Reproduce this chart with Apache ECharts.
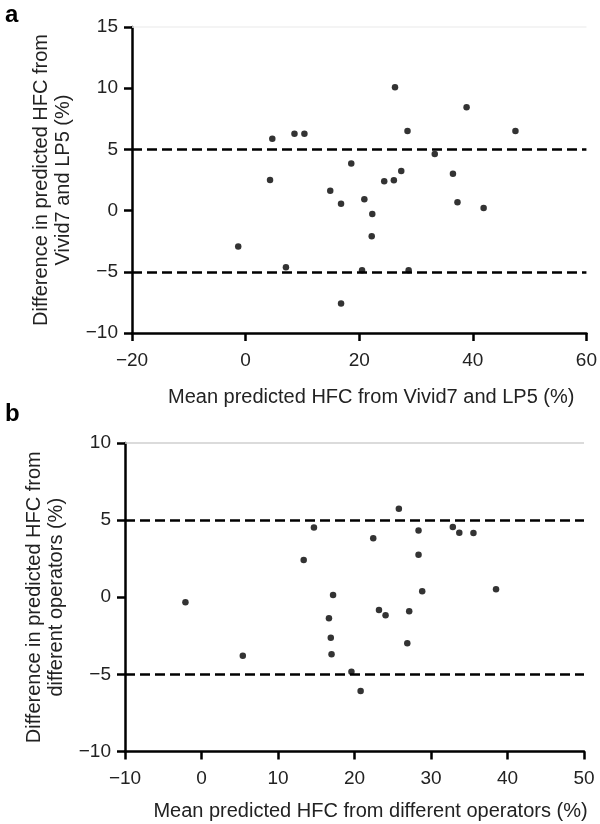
<!DOCTYPE html>
<html><head><meta charset="utf-8">
<script src="https://cdn.jsdelivr.net/npm/echarts@6/dist/echarts.min.js"></script>
<style>html,body{margin:0;padding:0;background:#fff}#c{width:600px;height:824px}</style>
</head><body><div id="c"></div>
<script>
// Panel a: mean (x) and difference (y), Vivid7 vs LP5
const meanA = [-1.3, 4.7, 4.3, 8.6, 10.35, 7.1, 14.9, 16.8, 18.6, 16.8, 20.9, 22.3, 22.2, 20.5, 24.4, 26.1, 27.4, 26.3, 28.5, 28.7, 33.3, 36.5, 37.3, 38.9, 41.9, 47.5];
const diffA = [-2.94, 5.88, 2.5, 6.27, 6.27, -4.63, 1.63, 0.55, 3.84, -7.6, 0.92, -0.27, -2.1, -4.88, 2.4, 2.48, 3.24, 10.07, 6.5, -4.88, 4.63, 3.02, 0.68, 8.44, 0.22, 6.5];
// Panel b: mean (x) and difference (y), different operators
const meanB = [-2.1, 5.4, 13.36, 14.7, 17.2, 16.66, 16.9, 17.0, 19.6, 20.8, 22.45, 23.2, 24.06, 25.8, 28.37, 28.37, 28.85, 27.15, 26.9, 32.85, 33.7, 35.55, 38.5];
const diffB = [-0.32, -3.79, 2.42, 4.52, 0.15, -1.36, -2.62, -3.7, -4.83, -6.08, 3.83, -0.82, -1.17, 5.73, 4.32, 2.75, 0.39, -0.91, -2.99, 4.55, 4.18, 4.16, 0.52];
const limits = [5, -5];
const panelLabels = ['a', 'b'];
const xTitles = ['Mean predicted HFC from Vivid7 and LP5 (%)', 'Mean predicted HFC from different operators (%)'];
const yTitles = ['Difference in predicted HFC from\nVivid7 and LP5 (%)', 'Difference in predicted HFC from\ndifferent operators (%)'];
const xRanges = [[-20, 60, 20], [-10, 50, 10]];
const yRanges = [[-10, 15, 5], [-10, 10, 5]];

const FONT = 'Liberation Sans, Arial, Helvetica, sans-serif';
const fmt = v => v < 0 ? '\u2212' + Math.abs(v) : String(v);
const chart = echarts.init(document.getElementById('c'));

const grids = [
  {left: 132, right: 11, top: 27, height: 306},
  {left: 125, right: 16, top: 443, height: 308.5}
];
const xGaps = [54, 50];
const xShift = [24, 32];
const yGaps = [55, 52];
function axisCommon(margin) {
  return {
    axisLine: {show: true, onZero: false, lineStyle: {color: '#000', width: 2.5}},
    axisTick: {show: true, length: 8, lineStyle: {color: '#000', width: 2.5}},
    splitLine: {show: false},
    axisLabel: {color: '#222', fontSize: 19, fontFamily: FONT, formatter: fmt, margin: margin}
  };
}
const xAxes = [0, 1].map(i => Object.assign(axisCommon(18), {
  type: 'value', gridIndex: i, min: xRanges[i][0], max: xRanges[i][1], interval: xRanges[i][2],
  name: xTitles[i], nameLocation: 'middle', nameGap: xGaps[i],
  nameTextStyle: {color: '#222', fontSize: 20, fontFamily: FONT, padding: [0, 0, 0, xShift[i]]}
}));
const yAxes = [0, 1].map(i => Object.assign(axisCommon(14), {
  type: 'value', gridIndex: i, min: yRanges[i][0], max: yRanges[i][1], interval: yRanges[i][2],
  name: yTitles[i], nameLocation: 'middle', nameGap: yGaps[i],
  nameTextStyle: {color: '#222', fontSize: 20, fontFamily: FONT, lineHeight: 22}
}));
const topLineColors = ['#f0f0f0', '#cfcfcf'];
const series = [[meanA, diffA], [meanB, diffB]].map((d, i) => ({
  type: 'scatter', xAxisIndex: i, yAxisIndex: i,
  data: d[0].map((x, k) => [x, d[1][k]]),
  symbol: 'circle', symbolSize: 6.5, itemStyle: {color: '#000'},
  markLine: {
    silent: true, symbol: 'none', label: {show: false},
    data: limits.map(v => ({yAxis: v, lineStyle: {color: '#000', width: 2.5, type: [10, 5]}}))
      .concat([{yAxis: yRanges[i][1], lineStyle: {color: topLineColors[i], width: 1.5, type: 'solid'}}])
  },
  z: 3
}));
chart.setOption({
  animation: false,
  grid: grids,
  xAxis: xAxes,
  yAxis: yAxes,
  series: series,
  graphic: [
    {type: 'text', left: 5, top: 3, style: {text: panelLabels[0], font: 'bold 24px ' + FONT, fill: '#000'}},
    {type: 'text', left: 5, top: 402, style: {text: panelLabels[1], font: 'bold 24px ' + FONT, fill: '#000'}}
  ]
});
</script></body></html>
